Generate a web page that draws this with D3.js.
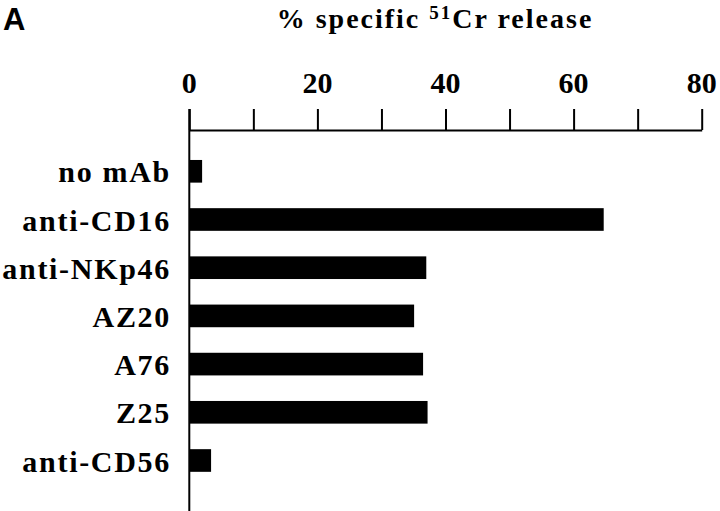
<!DOCTYPE html>
<html>
<head>
<meta charset="utf-8">
<script src="https://cdn.jsdelivr.net/npm/d3@7.9.0/dist/d3.min.js"></script>
<style>
  body { margin: 0; background: #fff; }
  svg { display: block; }
  .cat { font-family: "Liberation Serif", serif; font-weight: bold; font-size: 30px; letter-spacing: 1.7px; }
  .tick-label { font-family: "Liberation Serif", serif; font-weight: bold; font-size: 30px; }
  .title { font-family: "Liberation Serif", serif; font-weight: bold; font-size: 28px; letter-spacing: 2px; }
  .panel { font-family: "Liberation Sans", Arial, sans-serif; font-weight: bold; font-size: 31px; }
</style>
</head>
<body>
<svg width="720" height="511"></svg>
<script>
const categories = ["no mAb", "anti-CD16", "anti-NKp46", "AZ20", "A76", "Z25", "anti-CD56"];
const releaseValues = [2.0, 64.7, 37.0, 35.1, 36.5, 37.2, 3.4];
const tickValues = [0, 10, 20, 30, 40, 50, 60, 70, 80];
const tickLabels = [0, 20, 40, 60, 80];

const data = categories.map((c, i) => ({ label: c, value: releaseValues[i] }));

const svg = d3.select("svg");

const x = d3.scaleLinear().domain([0, 80]).range([189.3, 701.7]);
const y = d3
  .scaleBand()
  .domain(categories)
  .range([147.2, 484.6])
  .paddingInner(0.53)
  .paddingOuter(0.265);

const axisY = 130;

// panel letter + title
svg.append("text").attr("class", "panel").attr("x", 3).attr("y", 30).text("A");

const title = svg
  .append("text")
  .attr("class", "title")
  .attr("x", 435)
  .attr("y", 28)
  .attr("text-anchor", "middle");
title.append("tspan").text("% specific ");
title.append("tspan").attr("font-size", 19).attr("dy", -9).text("51");
title.append("tspan").attr("dy", 9).text("Cr release");

// top axis: ticks pointing up, labels every 20
const axis = d3
  .axisTop(x)
  .tickValues(tickValues)
  .tickSize(21)
  .tickSizeOuter(0)
  .tickFormat(() => "");

const gAxis = svg.append("g").attr("transform", `translate(0,${axisY})`).call(axis);
gAxis.select(".domain").attr("stroke", "#000").attr("stroke-width", 2);
gAxis.selectAll(".tick line").attr("stroke", "#000").attr("stroke-width", 2);

svg
  .selectAll(".tick-label")
  .data(tickLabels)
  .join("text")
  .attr("class", "tick-label")
  .attr("x", (d) => x(d))
  .attr("y", 93)
  .attr("text-anchor", "middle")
  .text((d) => d);

// vertical baseline
svg
  .append("line")
  .attr("x1", x(0))
  .attr("x2", x(0))
  .attr("y1", axisY - 21)
  .attr("y2", 511)
  .attr("stroke", "#000")
  .attr("stroke-width", 2);

// bars
svg
  .selectAll(".bar")
  .data(data)
  .join("rect")
  .attr("class", "bar")
  .attr("x", x(0))
  .attr("y", (d) => y(d.label))
  .attr("width", (d) => x(d.value) - x(0))
  .attr("height", y.bandwidth())
  .attr("fill", "#000");

// category labels
svg
  .selectAll(".cat")
  .data(data)
  .join("text")
  .attr("class", "cat")
  .attr("x", 171)
  .attr("y", (d) => y(d.label) + y.bandwidth() / 2)
  .attr("dy", "0.37em")
  .attr("text-anchor", "end")
  .text((d) => d.label);
</script>
</body>
</html>
